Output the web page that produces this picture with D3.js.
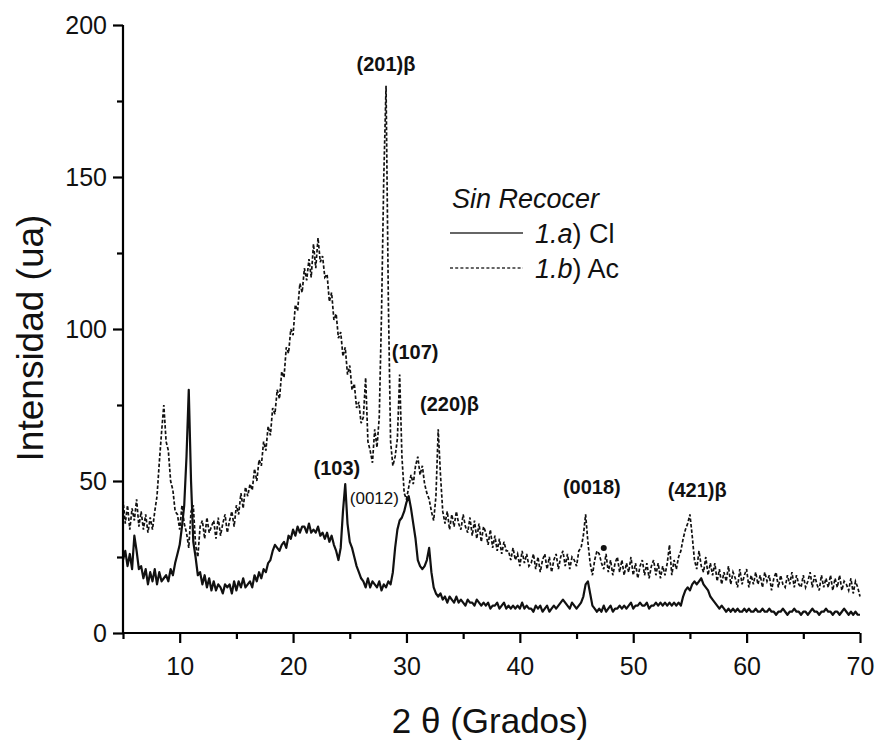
<!DOCTYPE html>
<html>
<head>
<meta charset="utf-8">
<script src="https://cdn.jsdelivr.net/npm/d3@7"></script>
<style>
  html, body { margin: 0; padding: 0; background: #fff; }
  svg { display: block; }
  text { font-family: "Liberation Sans", Arial, Helvetica, sans-serif; fill: #111; }
</style>
</head>
<body>
<div id="chart"></div>
<script>
// ---- data (2θ from 5.0 to 70.0, step 0.2) ----
const thetaStart = 5.0;
const thetaStep = 0.2;

// Series 1.a) Cl  (solid)
const seriesCl = [
  24, 27, 22, 26, 21, 32, 27, 21, 22, 18,
  21, 16, 20, 17, 21, 16, 20, 17, 18, 19,
  17, 21, 19, 23, 26, 29, 35, 42, 58, 80,
  50, 30, 25, 19, 20, 16, 19, 15, 18, 14,
  17, 14, 16, 15, 13, 16, 15, 16, 13, 17,
  14, 17, 15, 18, 15, 16, 17, 15, 19, 17,
  20, 18, 21, 20, 23, 24, 27, 29, 28, 27,
  29, 30, 28, 32, 31, 34, 32, 35, 33, 35,
  35, 33, 36, 33, 34, 33, 35, 32, 33, 31,
  33, 30, 32, 29, 27, 24, 28, 40, 49, 36,
  30, 28, 25, 22, 20, 18, 17, 15, 18, 15,
  17, 16, 15, 17, 14, 16, 15, 17, 16, 20,
  28, 34, 37, 38, 40, 43, 45, 41, 36, 31,
  24, 22, 21, 22, 24, 28, 20, 15, 13, 12,
  13, 11, 12, 10, 12, 11, 10, 12, 10, 11,
  10, 9, 11, 10, 10, 9, 11, 10, 9, 10,
  9, 10, 8, 9, 9, 10, 8, 9, 10, 8,
  9, 8, 9, 8, 9, 8, 10, 8, 9, 8,
  8, 7, 9, 8, 9, 7, 8, 9, 7, 8,
  9, 8, 9, 10, 11, 10, 9, 8, 10, 9,
  8, 9, 10, 12, 16, 17, 13, 9, 8, 7,
  8, 7, 9, 7, 8, 9, 7, 8, 8, 9,
  8, 9, 8, 9, 10, 8, 9, 9, 10, 9,
  9, 10, 8, 9, 9, 10, 9, 10, 9, 10,
  9, 10, 9, 10, 9, 10, 9, 12, 14, 15,
  14, 16, 17, 16, 17, 18, 16, 15, 14, 12,
  11, 10, 9, 8, 9, 8, 7, 8, 7, 8,
  7, 8, 7, 7, 8, 7, 8, 7, 7, 8,
  7, 7, 8, 7, 7, 8, 7, 7, 6, 7,
  7, 8, 7, 6, 7, 7, 8, 7, 7, 6,
  7, 7, 6, 7, 8, 7, 7, 6, 7, 7,
  8, 7, 7, 6, 7, 7, 6, 7, 8, 7,
  6, 7, 6, 7, 6, 6
];

// Series 1.b) Ac  (dashed)
const seriesAc = [
  44, 36, 42, 34, 41, 37, 44, 35, 40, 34,
  39, 33, 38, 34, 40, 45, 56, 66, 75, 63,
  60, 50, 47, 40, 39, 34, 42, 36, 33, 28,
  40, 42, 29, 25, 35, 37, 31, 38, 33, 35,
  37, 31, 38, 32, 36, 39, 33, 37, 40, 35,
  42, 39, 46, 41, 48, 45, 49, 47, 54, 50,
  57, 55, 63, 60, 68, 65, 74, 72, 80, 77,
  86, 84, 94, 92, 100, 98, 108, 106, 115, 112,
  120, 116, 123, 117, 128, 120, 130, 122, 124, 117,
  118, 109, 112, 103, 105, 97, 99, 91, 94, 85,
  88, 80, 82, 74, 76, 69, 71, 84, 63, 60,
  56, 67, 61, 71, 105, 150, 180, 110, 63, 55,
  58, 64, 85, 58, 46, 44, 48, 52, 49, 55,
  58, 52, 55, 49, 46, 44, 40, 37, 45, 67,
  52, 40, 36, 40, 34, 39, 35, 40, 36, 34,
  39, 35, 33, 38, 32, 37, 31, 36, 30, 35,
  33, 29, 34, 28, 32, 27, 31, 26, 30, 27,
  27, 24, 28, 24, 26, 22, 27, 23, 26, 22,
  23, 26, 21, 25, 20, 24, 26, 21, 25, 20,
  24, 26, 21, 25, 27, 22, 26, 21, 25, 24,
  22, 27, 28, 32, 39, 30, 23, 19, 24, 27,
  26, 23, 21, 26, 20, 24, 19, 23, 25, 20,
  24, 19, 23, 20, 25, 19, 23, 18, 22, 24,
  19, 23, 18, 22, 24, 19, 23, 18, 22, 19,
  23, 29, 19, 24, 21, 25, 27, 31, 34, 36,
  39, 32, 24, 21, 27, 22, 20, 25, 19, 23,
  19, 23, 17, 21, 16, 20, 17, 22, 16, 20,
  18, 15, 21, 16, 19, 21, 15, 19, 16, 20,
  16, 19, 15, 20, 17, 19, 14, 18, 20, 15,
  19, 16, 15, 19, 16, 20, 15, 19, 16, 15,
  19, 15, 17, 20, 15, 19, 16, 14, 19, 15,
  18, 15, 19, 14, 18, 15, 19, 14, 17, 16,
  14, 18, 13, 17, 15, 12
];

const xMajorTicks = [10, 20, 30, 40, 50, 60, 70];
const xMinorTicks = [5, 15, 25, 35, 45, 55, 65];
const yMajorTicks = [0, 50, 100, 150, 200];
const yMinorTicks = [25, 75, 125, 175];

// Peak labels (text, 2θ, intensity of the label baseline, small font?)
const peakLabels = [
  { text: "(201)β", theta: 25.6, value: 185.0, small: false },
  { text: "(107)",  theta: 28.7, value: 90.0,  small: false },
  { text: "(220)β", theta: 31.2, value: 73.0,  small: false },
  { text: "(103)",  theta: 21.8, value: 52.0,  small: false },
  { text: "(0012)", theta: 25.0, value: 42.5,  small: true  },
  { text: "(0018)", theta: 43.8, value: 45.7,  small: false },
  { text: "(421)β", theta: 53.05, value: 44.7, small: false }
];
const dotMarkers = [ { theta: 47.4, value: 28 } ];

const legendTitle = "Sin Recocer";
const legendItems = [
  { num: "1.", letter: "a", rest: ") Cl", dash: null },
  { num: "1.", letter: "b", rest: ") Ac", dash: "3,2.2" }
];

// ---- chart ----
const W = 878, H = 742;
const svg = d3.select("#chart").append("svg").attr("width", W).attr("height", H);

const x = d3.scaleLinear().domain([5, 70]).range([123, 860]);
const y = d3.scaleLinear().domain([0, 200]).range([633, 25]);

const toPoints = arr => arr.map((v, i) => [thetaStart + i * thetaStep, v]);
const line = d3.line().x(d => x(d[0])).y(d => y(d[1]));

// Ac (dashed)
svg.append("path")
  .datum(toPoints(seriesAc))
  .attr("d", line)
  .attr("fill", "none")
  .attr("stroke", "#111")
  .attr("stroke-width", 1.7)
  .attr("stroke-dasharray", "3.5,2");

// Cl (solid)
svg.append("path")
  .datum(toPoints(seriesCl))
  .attr("d", line)
  .attr("fill", "none")
  .attr("stroke", "#111")
  .attr("stroke-width", 2.2)
  .attr("stroke-linejoin", "round");

svg.selectAll("circle.dot").data(dotMarkers).enter().append("circle")
  .attr("class", "dot")
  .attr("cx", d => x(d.theta)).attr("cy", d => y(d.value)).attr("r", 3)
  .attr("fill", "#111");

// Axes
const xAxis = d3.axisBottom(x).tickValues(xMajorTicks).tickSize(10).tickPadding(14)
  .tickFormat(d3.format("d"));
const gx = svg.append("g").attr("transform", `translate(0,${y(0)})`).call(xAxis);
gx.select(".domain").attr("d", `M${x(5)},0H${x(70)}`).attr("stroke-width", 2.2);
gx.selectAll(".tick line").attr("stroke-width", 2.2);
gx.selectAll(".tick text").attr("font-size", 25)
  .attr("font-family", "Liberation Sans, Arial, sans-serif").attr("fill", "#111");
const xAxisMinor = d3.axisBottom(x).tickValues(xMinorTicks).tickSize(6).tickFormat("");
const gxm = svg.append("g").attr("transform", `translate(0,${y(0)})`).call(xAxisMinor);
gxm.select(".domain").remove();
gxm.selectAll(".tick line").attr("stroke-width", 2.2);

const yAxis = d3.axisLeft(y).tickValues(yMajorTicks).tickSize(10).tickPadding(6)
  .tickFormat(d3.format("d"));
const gy = svg.append("g").attr("transform", `translate(${x(5)},0)`).call(yAxis);
gy.select(".domain").attr("d", `M0,${y(200)}V${y(0)}`).attr("stroke-width", 2.2);
gy.selectAll(".tick line").attr("stroke-width", 2.2);
gy.selectAll(".tick text").attr("font-size", 25)
  .attr("font-family", "Liberation Sans, Arial, sans-serif").attr("fill", "#111");
const yAxisMinor = d3.axisLeft(y).tickValues(yMinorTicks).tickSize(6).tickFormat("");
const gym = svg.append("g").attr("transform", `translate(${x(5)},0)`).call(yAxisMinor);
gym.select(".domain").remove();
gym.selectAll(".tick line").attr("stroke-width", 2.2);

// Axis titles
svg.append("text")
  .attr("x", 490).attr("y", 733)
  .attr("text-anchor", "middle")
  .attr("font-size", 35)
  .text("2 θ (Grados)");

svg.append("text")
  .attr("transform", "translate(43,338) rotate(-90)")
  .attr("text-anchor", "middle")
  .attr("font-size", 37)
  .text("Intensidad (ua)");

// Peak labels
svg.selectAll("text.peak").data(peakLabels).enter().append("text")
  .attr("class", "peak")
  .attr("x", d => x(d.theta))
  .attr("y", d => y(d.value))
  .attr("font-size", d => d.small ? 17 : 20)
  .attr("font-weight", d => d.small ? "normal" : "bold")
  .text(d => d.text);

// Legend
svg.append("text")
  .attr("x", 452).attr("y", 208)
  .attr("font-size", 27)
  .attr("font-style", "italic")
  .text(legendTitle);

legendItems.forEach((it, i) => {
  const ly = 233 + i * 35;
  svg.append("line")
    .attr("x1", 450).attr("x2", 523).attr("y1", ly).attr("y2", ly)
    .attr("stroke", "#333").attr("stroke-width", 1.4)
    .attr("stroke-dasharray", it.dash);
  const t = svg.append("text")
    .attr("x", 535).attr("y", ly + 10)
    .attr("font-size", 27);
  t.append("tspan").attr("font-style", "italic").text(it.num + it.letter);
  t.append("tspan").text(it.rest);
});
</script>
</body>
</html>
